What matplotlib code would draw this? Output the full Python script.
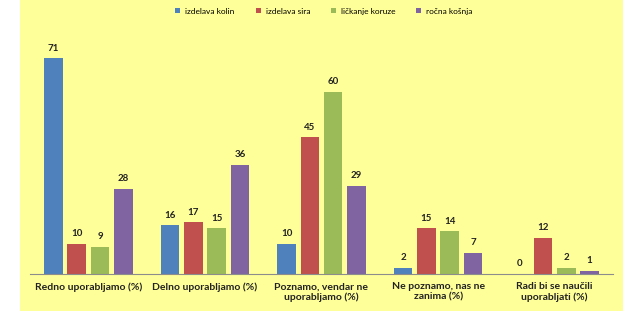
import numpy as np
import matplotlib
matplotlib.use('Agg')
import matplotlib.pyplot as plt
from matplotlib.patches import Rectangle

plt.rcParams['font.family'] = ['Lato', 'DejaVu Sans']

categories = ['Redno uporabljamo (%)', 'Delno uporabljamo (%)',
              'Poznamo, vendar ne\nuporabljamo (%)',
              'Ne poznamo, nas ne\nzanima (%)',
              'Radi bi se naučili\nuporabljati (%)']
series = ['izdelava kolin', 'izdelava sira', 'ličkanje koruze', 'ročna košnja']
values = [
    [71, 16, 10, 2, 0],
    [10, 17, 45, 15, 12],
    [9, 15, 60, 14, 2],
    [28, 36, 29, 7, 1],
]
colors = ['#4F81BD', '#C0504D', '#9BBB59', '#8064A2']

fig = plt.figure(figsize=(6.23, 3.11), dpi=100, facecolor='white')
fig.patches.append(Rectangle((20 / 623, 0), 1, 1, transform=fig.transFigure,
                             facecolor='#FFFF99', edgecolor='none', zorder=-10))
ax = fig.add_axes([30 / 623, 37 / 311, 583 / 623, 243 / 311])
ax.set_facecolor('none')

x = np.arange(len(categories))
width = 0.16
step = 0.2
for i, (name, vals) in enumerate(zip(series, values)):
    pos = x + (i - 1.5) * step
    ax.bar(pos, vals, width, color=colors[i], label=name)
    for p, v in zip(pos, vals):
        ax.annotate(str(v), (p, v), xytext=(0, 4), textcoords='offset points',
                    ha='center', va='bottom', fontsize=7, fontweight='bold',
                    color='#222222')

ax.set_xlim(-0.5, len(categories) - 0.5)
ax.set_ylim(0, 80)
ax.set_xticks(x)
ax.set_xticklabels(categories, fontsize=7.5, fontweight='bold', color='#222222')
ax.tick_params(axis='x', length=0, pad=6)
ax.set_yticks([])
for s in ['top', 'right', 'left']:
    ax.spines[s].set_visible(False)
ax.spines['bottom'].set_color('#8c8c8c')

fig.legend(loc='upper center', bbox_to_anchor=(0.52, 1.0), ncol=4, frameon=False,
           fontsize=6, handlelength=0.6, handleheight=0.6, columnspacing=2.5,
           handletextpad=0.6)

fig.savefig('out.png', dpi=100, facecolor=fig.get_facecolor())
